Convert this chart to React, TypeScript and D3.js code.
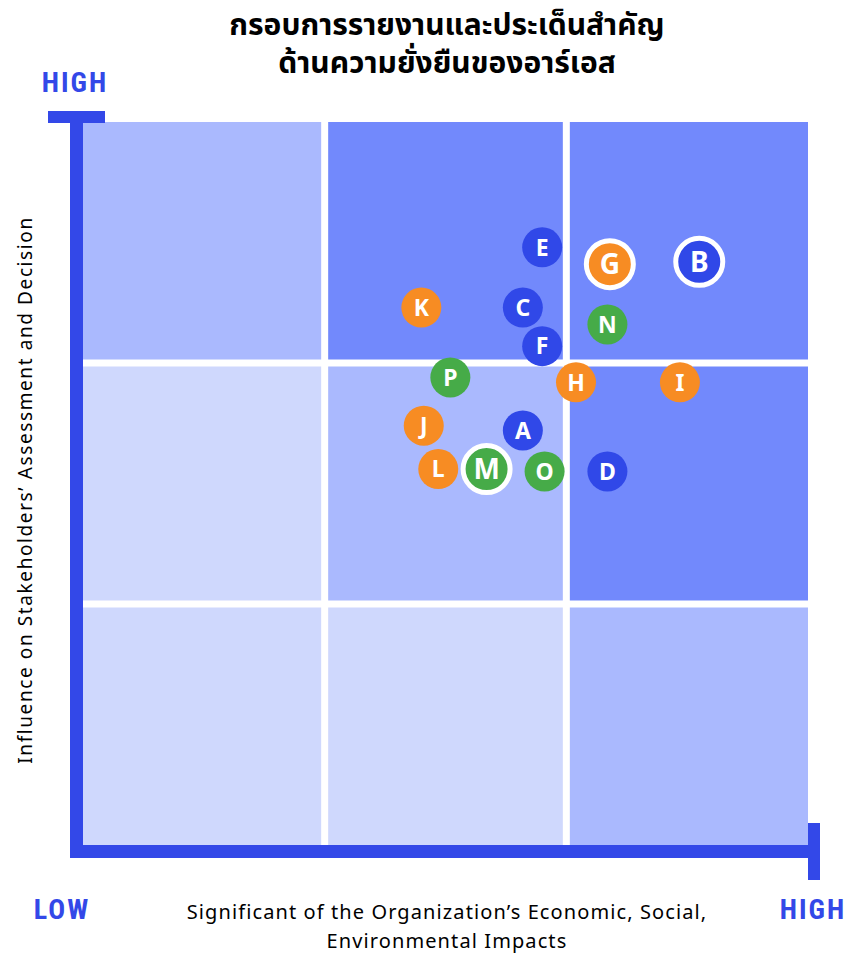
import React, { useEffect, useRef } from "react";
import * as d3 from "d3";

// Issue labels, positions on the 0-3 scale and their groups
const labels = ["A", "B", "C", "D", "E", "F", "G", "H", "I", "J", "K", "L", "M", "N", "O", "P"];
const impactValues = [1.82, 2.55, 1.82, 2.17, 1.9, 1.9, 2.18, 2.04, 2.47, 1.41, 1.4, 1.47, 1.67, 2.17, 1.91, 1.52];
const influenceValues = [1.72, 2.42, 2.23, 1.55, 2.48, 2.07, 2.41, 1.92, 1.92, 1.74, 2.23, 1.56, 1.56, 2.16, 1.55, 1.94];
const groups = ["blue", "blue", "blue", "blue", "blue", "blue", "orange", "orange", "orange", "orange", "orange", "orange", "green", "green", "green", "green"];
const highlighted = ["B", "G", "M"];

// Grid shading, row by row from the top
const cellLevels = [
  [1, 2, 2],
  [0, 1, 2],
  [0, 0, 1],
];

const titleLines = ["กรอบการรายงานและประเด็นสำคัญ", "ด้านความยั่งยืนของอาร์เอส"];
const xLabelLines = ["Significant of the Organization’s Economic, Social,", "Environmental Impacts"];
const yLabel = "Influence on Stakeholders’ Assessment and Decision";

const App: React.FC = () => {
  const svgRef = useRef<SVGSVGElement | null>(null);

  useEffect(() => {
    const svg = d3.select(svgRef.current);
    svg.selectAll("*").remove();

    const font = "'Noto Sans', 'Noto Sans Thai', sans-serif";
    const axisBlue = "#3348e8";
    const cellColors = ["#cfd8fd", "#aab9fe", "#7289fc"];
    const dotColors: Record<string, string> = {
      blue: "#3048e8",
      orange: "#f78c23",
      green: "#46ab48",
    };

    const x = d3.scaleLinear().domain([0, 3]).range([83, 808]);
    const y = d3.scaleLinear().domain([0, 3]).range([845, 122]);
    const gap = 3.5;

    // background cells
    const cells = cellLevels.flatMap((row, ri) =>
      row.map((lvl, ci) => ({ ci, r: 2 - ri, lvl }))
    );
    svg
      .append("g")
      .selectAll("rect")
      .data(cells)
      .enter()
      .append("rect")
      .attr("x", (d) => x(d.ci) + (d.ci === 0 ? 0 : gap))
      .attr("y", (d) => y(d.r + 1) + (d.r === 2 ? 0 : gap))
      .attr("width", (d) => x(d.ci + 1) - x(d.ci) - (d.ci === 0 ? gap : d.ci === 2 ? gap : 2 * gap))
      .attr("height", (d) => y(d.r) - y(d.r + 1) - (d.r === 2 ? gap : d.r === 0 ? gap : 2 * gap))
      .attr("fill", (d) => cellColors[d.lvl]);

    // axes bars
    const axes = svg.append("g").attr("fill", axisBlue);
    axes.append("rect").attr("x", x(0) - 13).attr("y", y(3) - 11).attr("width", 13).attr("height", y(0) - y(3) + 24);
    axes.append("rect").attr("x", x(0) - 35).attr("y", y(3) - 11).attr("width", 57).attr("height", 12);
    axes.append("rect").attr("x", x(0) - 13).attr("y", y(0)).attr("width", x(3) - x(0) + 25).attr("height", 13);
    axes.append("rect").attr("x", x(3)).attr("y", y(0) - 22).attr("width", 12).attr("height", 57);

    // title
    svg
      .append("g")
      .selectAll("text")
      .data(titleLines)
      .enter()
      .append("text")
      .attr("x", 447)
      .attr("y", (d, i) => 35 + i * 38)
      .attr("text-anchor", "middle")
      .style("font-family", font)
      .style("font-weight", "bold")
      .style("font-size", "30px")
      .text((d) => d);

    // HIGH / LOW labels
    const ends = [
      { t: "HIGH", x: 75, y: 92 },
      { t: "LOW", x: 62, y: 919 },
      { t: "HIGH", x: 813, y: 919 },
    ];
    svg
      .append("g")
      .selectAll("text")
      .data(ends)
      .enter()
      .append("text")
      .attr("x", (d) => d.x)
      .attr("y", (d) => d.y)
      .attr("text-anchor", "middle")
      .attr("fill", axisBlue)
      .style("font-family", "'Liberation Sans Narrow', 'Roboto Condensed', 'Liberation Sans', sans-serif")
      .style("font-weight", "bold")
      .style("font-size", "28px")
      .style("letter-spacing", "2px")
      .text((d) => d.t);

    // x axis title
    svg
      .append("g")
      .selectAll("text")
      .data(xLabelLines)
      .enter()
      .append("text")
      .attr("x", 447)
      .attr("y", (d, i) => 919 + i * 29)
      .attr("text-anchor", "middle")
      .style("font-family", font)
      .style("font-size", "20px")
      .style("letter-spacing", "1.1px")
      .text((d) => d);

    // y axis title
    svg
      .append("text")
      .attr("transform", "translate(32,490) rotate(-90)")
      .attr("text-anchor", "middle")
      .style("font-family", font)
      .style("font-size", "19px")
      .style("letter-spacing", "1.6px")
      .text(yLabel);

    // issue bubbles
    const points = labels.map((l, i) => ({
      l,
      vx: impactValues[i],
      vy: influenceValues[i],
      g: groups[i],
      hi: highlighted.includes(l),
    }));
    const dots = svg
      .append("g")
      .selectAll("g")
      .data(points)
      .enter()
      .append("g")
      .attr("transform", (d) => `translate(${x(d.vx)},${y(d.vy)})`);
    dots
      .append("circle")
      .attr("r", (d) => (d.hi ? 23.5 : 20))
      .attr("fill", (d) => dotColors[d.g])
      .attr("stroke", (d) => (d.hi ? "#ffffff" : "none"))
      .attr("stroke-width", 5);
    dots
      .append("text")
      .attr("text-anchor", "middle")
      .attr("dy", "0.36em")
      .attr("fill", "#ffffff")
      .style("font-family", font)
      .style("font-weight", "bold")
      .style("font-size", (d) => (d.hi ? "28px" : "23px"))
      .text((d) => d.l);
  }, []);

  return <svg ref={svgRef} width={853} height={955} style={{ display: "block", position: "absolute", left: 0, top: 0 }} />;
};

export default App;
